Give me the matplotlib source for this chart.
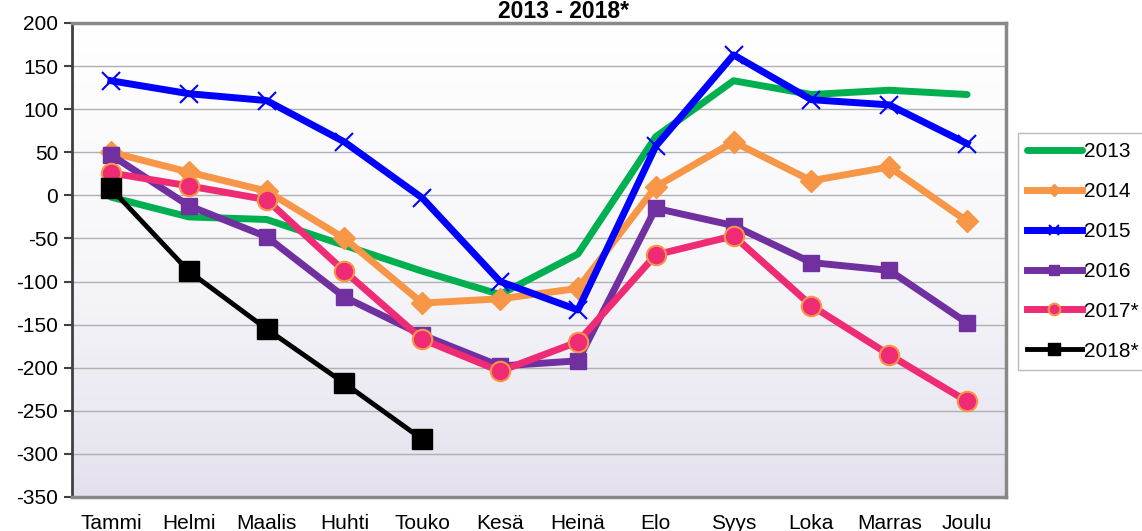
import numpy as np
import matplotlib
matplotlib.use("Agg")
import matplotlib.pyplot as plt
from matplotlib.colors import LinearSegmentedColormap

plt.rcParams["font.family"] = ["Liberation Sans", "DejaVu Sans"]
plt.rcParams["axes.unicode_minus"] = False

# data
months = ["Tammi", "Helmi", "Maalis", "Huhti", "Touko", "Kesä",
          "Heinä", "Elo", "Syys", "Loka", "Marras", "Joulu"]
v2013 = [-2, -25, -28, -58, -88, -115, -68, 68, 133, 117, 122, 117]
v2014 = [50, 27, 5, -50, -125, -120, -108, 10, 62, 17, 33, -30]
v2015 = [133, 118, 110, 62, -3, -100, -133, 57, 163, 111, 105, 60]
v2016 = [47, -12, -48, -118, -162, -198, -192, -15, -35, -78, -87, -148]
v2017 = [26, 11, -5, -88, -167, -204, -170, -69, -47, -128, -185, -239]
v2018 = [8, -88, -155, -218, -283]

x = np.arange(len(months))

fig = plt.figure(figsize=(11.42, 5.31), dpi=100)
ax = fig.add_axes([72 / 1142, 34 / 531, 934 / 1142, 474 / 531])

# gradient background
grad = np.linspace(0, 1, 256).reshape(-1, 1)
cmap = LinearSegmentedColormap.from_list("bg", ["#ffffff", "#f7f7fa", "#e4e1ed"])
ax.imshow(grad, cmap=cmap, aspect="auto", extent=[0, 1, 0, 1],
          transform=ax.transAxes, zorder=0, origin="upper")

ax.plot(x, v2013, color="#00b050", lw=5, solid_capstyle="round", label="2013", zorder=3)
ax.plot(x, v2014, color="#f79646", lw=5, marker="D", ms=11, label="2014", zorder=3)
ax.plot(x, v2015, color="#0000ff", lw=5, marker="x", ms=13, mew=1.5, label="2015", zorder=3)
ax.plot(x, v2016, color="#7030a0", lw=5, marker="s", ms=12, label="2016", zorder=3)
ax.plot(x, v2017, color="#ee2b74", lw=5, marker="o", ms=14, mec="#f79646", mew=1.5,
        label="2017*", zorder=3)
ax.plot(x[:len(v2018)], v2018, color="black", lw=3.5, marker="s", ms=14, label="2018*", zorder=3)

ax.set_xlim(-0.5, len(months) - 0.5)
ax.set_ylim(-350, 200)
ax.set_yticks(np.arange(-350, 201, 50))
ax.set_xticks(x)
ax.set_xticklabels(months)
ax.tick_params(axis="x", length=0, pad=12, labelsize=15)
ax.tick_params(axis="y", length=6, width=1.5, color="#404040", pad=4, labelsize=15)
ax.yaxis.grid(True, color="#b0b0b0", lw=1)
ax.set_axisbelow(True)

ax.spines["left"].set_color("#404040")
ax.spines["left"].set_linewidth(2)
for s in ["bottom", "top", "right"]:
    ax.spines[s].set_color("#888888")
    ax.spines[s].set_linewidth(2.5)

fig.text(563 / 1142, 1 - 12 / 531, "2013 - 2018*", ha="center", va="center",
         fontsize=16.5, fontweight="bold")

leg = fig.legend(loc="upper left", bbox_to_anchor=(1018 / 1142, 1 - 133 / 531),
                 fontsize=15, handlelength=2.6, handletextpad=0.1, labelspacing=1.0,
                 fancybox=False, edgecolor="#bbbbbb", framealpha=1, borderpad=0.45,
                 borderaxespad=0, markerscale=0.6)
leg.get_frame().set_linewidth(1)

fig.savefig("out.png", dpi=100)
